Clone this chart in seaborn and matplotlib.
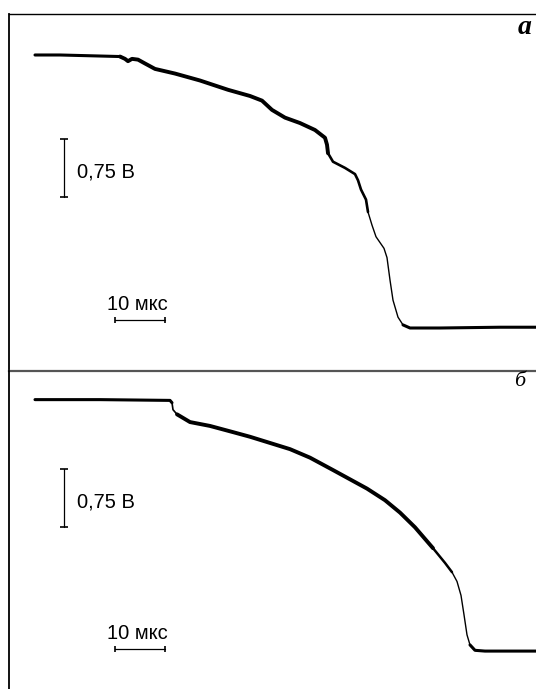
import numpy as np
import matplotlib
import matplotlib.pyplot as plt
import seaborn as sns

matplotlib.use('Agg')
sns.set_style("white")
plt.rcParams['font.family'] = ['Liberation Sans', 'DejaVu Sans']
plt.rcParams['text.color'] = 'black'

# oscillogram a: time (mks) and voltage (V, relative to final level)
t_a = [0, 5, 11, 17, 18, 18.6, 19.4, 20.6, 22, 24, 28, 33, 38.6, 43, 45.4,
       47.4, 50, 53, 56, 58, 58.4, 58.6, 59.6, 62, 64, 64.6, 65.2, 66.2,
       66.6, 67.4, 68.2, 69.8, 70.4, 71, 71.6, 72.6, 73.6, 75, 81, 93, 100.2]
v_a = [3.53, 3.53, 3.52, 3.51, 3.48, 3.45, 3.48, 3.47, 3.42, 3.35, 3.29,
       3.20, 3.08, 3.00, 2.94, 2.82, 2.72, 2.65, 2.56, 2.46, 2.37, 2.26,
       2.15, 2.07, 1.99, 1.91, 1.79, 1.66, 1.50, 1.33, 1.18, 1.03, 0.91,
       0.62, 0.36, 0.14, 0.04, 0.0, 0.0, 0.01, 0.01]

# oscillogram b
t_b = [0, 13, 27, 27.4, 27.6, 28.4, 31, 35, 39.6, 43, 47, 51, 55, 59.6, 63,
       66.4, 70, 73, 76, 79.6, 82, 83.4, 84.4, 85.2, 85.8, 86.4, 87, 88, 90,
       100.2]
v_b = [3.25, 3.25, 3.24, 3.21, 3.12, 3.06, 2.96, 2.91, 2.83, 2.77, 2.69,
       2.61, 2.50, 2.34, 2.22, 2.10, 1.95, 1.79, 1.60, 1.33, 1.14, 1.02,
       0.90, 0.72, 0.47, 0.21, 0.08, 0.01, 0.0, 0.0]

# beam is thicker where it moves slowly
segs_a = [(0, 17, 2.2), (17, 58.6, 2.8), (58.6, 66.6, 1.9),
          (66.6, 73.6, 1.0), (73.6, 101, 2.2)]
segs_b = [(0, 27.4, 2.2), (27.4, 28.4, 1.2), (28.4, 79.6, 2.8),
          (79.6, 83.4, 1.8), (83.4, 87, 1.0), (87, 101, 2.2)]

W, H = 536, 689
fig = plt.figure(figsize=(W / 100, H / 100), dpi=100)
ax_a = fig.add_axes([9 / W, 1 - 371 / H, 1 - 9 / W, 357 / H])
ax_b = fig.add_axes([9 / W, 0, 1 - 9 / W, 1 - 371 / H])

# pixels: x = 35 + 5*t, y = y0 - 77.3*V
ax_a.set_xlim(-5.2, 100.2)
ax_a.set_ylim(-0.556, 4.06)
ax_b.set_xlim(-5.2, 100.2)
ax_b.set_ylim(-0.49, 3.62)


def trace(ax, t, v, segs):
    t = np.asarray(t)
    v = np.asarray(v)
    for t0, t1, lw in segs:
        m = (t >= t0) & (t <= t1)
        sns.lineplot(x=t[m], y=v[m], color='black', lw=lw, ax=ax,
                     sort=False, estimator=None)
        ax.lines[-1].set_solid_capstyle('round')
        ax.lines[-1].set_solid_joinstyle('round')


trace(ax_a, t_a, v_a, segs_a)
trace(ax_b, t_b, v_b, segs_b)


def scale_bars(ax, v_lo, v_hbar, v_txt1, v_txt2):
    ax.plot([5.8, 5.8], [v_lo, v_lo + 0.75], color='black', lw=0.9,
            marker='_', ms=6, mew=1.2)
    ax.plot([16, 26], [v_hbar, v_hbar], color='black', lw=0.9,
            marker='|', ms=4, mew=1.2)
    ax.text(8.4, v_txt1, '0,75 В', fontsize=14.5, ha='left', va='center')
    ax.text(20.5, v_txt2, '10 мкс', fontsize=14.5, ha='center', va='center')


scale_bars(ax_a, 1.695, 0.10, 2.02, 0.30)
scale_bars(ax_b, 1.60, 0.03, 1.93, 0.23)

ax_a.text(98, 3.89, 'а', fontsize=20, family='Liberation Serif',
          style='italic', weight='bold', ha='center', va='center')
ax_b.text(97, 3.49, 'б', fontsize=16, family='Liberation Serif',
          style='italic', ha='center', va='center')

for ax in (ax_a, ax_b):
    ax.set_xticks([])
    ax.set_yticks([])
    ax.set_xlabel('')
    ax.set_ylabel('')
    ax.patch.set_visible(False)
    ax.spines['right'].set_visible(False)
    ax.spines['left'].set_color('black')
    ax.spines['left'].set_linewidth(1.3)

ax_a.spines['top'].set_color('black')
ax_a.spines['top'].set_linewidth(1.0)
ax_a.spines['bottom'].set_color('#555555')
ax_a.spines['bottom'].set_linewidth(1.6)
ax_b.spines['top'].set_visible(False)
ax_b.spines['bottom'].set_visible(False)

fig.savefig('out.png', dpi=100, facecolor='white')
